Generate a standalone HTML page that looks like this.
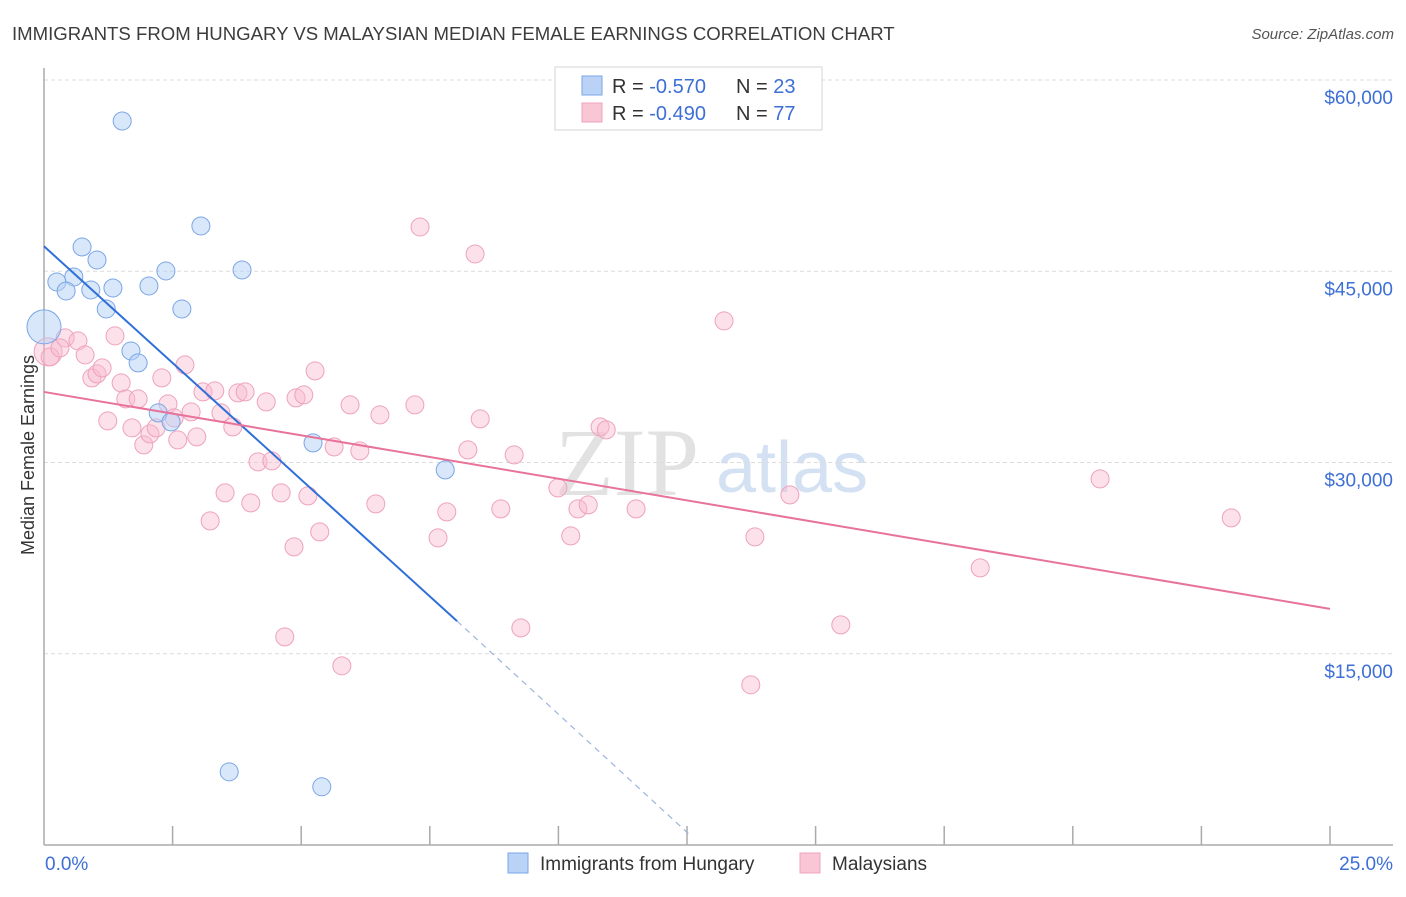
<!DOCTYPE html>
<html><head><meta charset="utf-8"><style>
body{margin:0;background:#fff;font-family:"Liberation Sans",sans-serif}
</style></head><body>
<svg id="c" width="1406" height="892" xmlns="http://www.w3.org/2000/svg"></svg>
<script>
const hungaryX=[1.52,3.05,0.74,1.03,3.85,2.37,0.58,0.25,0.43,0.91,1.34,2.04,1.21,2.68,1.69,1.83,2.22,2.47,5.23,7.80,3.60,5.40,0];
const hungaryY=[56785,48552,46905,45886,45102,45024,44553,44161,43455,43534,43690,43847,42044,42044,38750,37810,33889,33184,31537,29420,5740,4564,40633];
const malayX=[0.08,0.12,0.41,0.31,0.66,0.80,0.93,1.03,1.13,1.24,1.38,1.50,1.59,1.71,1.83,1.94,2.06,2.18,2.29,2.41,2.53,2.60,2.74,2.86,2.97,3.09,3.23,3.32,3.44,3.52,3.67,3.77,3.91,4.02,4.16,4.32,4.43,4.61,4.68,4.86,4.90,5.05,5.13,5.27,5.36,5.64,5.79,5.95,6.14,6.45,6.53,7.21,7.31,7.66,7.83,8.24,8.38,8.48,8.88,9.14,9.27,9.99,10.24,10.38,10.58,10.81,10.93,11.51,13.22,13.74,13.82,14.50,15.49,18.20,20.53,23.08];
const malayY=[38673,38281,39770,38986,39535,38437,36634,36947,37418,33262,39927,36242,34987,32713,34987,31380,32243,32713,36634,34595,33497,31772,37653,33968,32007,35536,25421,35614,33889,27616,32792,35457,35536,26832,30047,34752,30126,27616,16325,23383,35065,35300,27381,37183,24559,31223,14052,34517,30909,26754,33732,34517,48474,24088,26126,30988,46357,33419,26362,30596,17031,28008,24245,26362,26675,32792,32557,26362,41103,12562,24166,27459,17266,21736,28714,25656];
const yTicks=[15000,30000,45000,60000];
const yTickLabels=["$15,000","$30,000","$45,000","$60,000"];
const blueTrend=[[0,46960],[8.03,17560],[12.58,700]];
const pinkTrend=[[0,35535],[25,18520]];

const X=v=>44+v/25*1286;
const Y=v=>845-v/60000*765;
const svg=document.getElementById('c');
const NS="http://www.w3.org/2000/svg";
function mk(t,a,txt){const e=document.createElementNS(NS,t);for(const k in a)e.setAttribute(k,a[k]);if(txt!=null)e.textContent=txt;svg.appendChild(e);return e;}

let e;
e=mk('text',{x:12,y:40,'font-size':18.6,fill:'#3c3c3c'},'IMMIGRANTS FROM HUNGARY VS MALAYSIAN MEDIAN FEMALE EARNINGS CORRELATION CHART');

e=mk('text',{x:1394,y:39,'font-size':15,fill:'#555','font-style':'italic','text-anchor':'end'},'Source: ZipAtlas.com');


e=mk('text',{x:555,y:495,'font-size':96,fill:'#e2e2e2','font-family':'Liberation Serif'},'ZIP');

e=mk('text',{x:716,y:492,'font-size':72,fill:'#d3e1f3'},'atlas');


yTicks.forEach((v,i)=>{
 e=mk('line',{x1:44,x2:1393,y1:Y(v),y2:Y(v),stroke:'#dcdcdc','stroke-dasharray':'4,3'});
 
 e=mk('text',{x:1393,y:Y(v)+24,'font-size':19,fill:'#3d6fd6','text-anchor':'end'},yTickLabels[i]);
 
});
e=mk('line',{x1:44,x2:44,y1:68,y2:845,stroke:'#aaa','stroke-width':1.5});

e=mk('line',{x1:44,x2:1393,y1:845,y2:845,stroke:'#aaa','stroke-width':1.5});

for(let i=1;i<=10;i++){
 e=mk('line',{x1:X(i*2.5),x2:X(i*2.5),y1:826,y2:845,stroke:'#aaa','stroke-width':1.5});
 
}
e=mk('text',{x:45,y:870,'font-size':19,fill:'#3d6fd6'},'0.0%');

e=mk('text',{x:1393,y:870,'font-size':19,fill:'#3d6fd6','text-anchor':'end'},'25.0%');

e=mk('text',{x:34,y:455,'font-size':18,fill:'#333','text-anchor':'middle',transform:'rotate(-90 34 455)'},'Median Female Earnings');


malayX.forEach((v,i)=>{
 e=mk('circle',{cx:X(v),cy:Y(malayY[i]),r:i==0?14:9,fill:'rgba(248,187,208,0.45)',stroke:'#eea3bd','stroke-width':1});
 
});
hungaryX.forEach((v,i)=>{
 e=mk('circle',{cx:X(v),cy:Y(hungaryY[i]),r:i==22?17:9,fill:'rgba(180,208,245,0.5)',stroke:'#7aa6e6','stroke-width':1});
 
});
e=mk('line',{x1:X(blueTrend[0][0]),y1:Y(blueTrend[0][1]),x2:X(blueTrend[1][0]),y2:Y(blueTrend[1][1]),stroke:'#2f6fd8','stroke-width':2});

e=mk('line',{x1:X(blueTrend[1][0]),y1:Y(blueTrend[1][1]),x2:X(blueTrend[2][0]),y2:Y(blueTrend[2][1]),stroke:'#9db5dd','stroke-width':1.2,'stroke-dasharray':'6,5'});

e=mk('line',{x1:X(pinkTrend[0][0]),y1:Y(pinkTrend[0][1]),x2:X(pinkTrend[1][0]),y2:Y(pinkTrend[1][1]),stroke:'#e8739a','stroke-width':2});


e=mk('rect',{x:555,y:67,width:267,height:63,fill:'#fff',stroke:'#d6d6d6'});

[[76,'#b9d2f5','#7aa6e6','-0.570','23'],[103,'#f9c6d6','#eea3bd','-0.490','77']].forEach(r=>{
 e=mk('rect',{x:582,y:r[0],width:20,height:19,fill:r[1],stroke:r[2]});
 
 const t=mk('text',{x:612,y:r[0]+17,'font-size':20,fill:'#333'});
 
 t.innerHTML='R = <tspan fill="#3d6fd6">'+r[3]+'</tspan><tspan x="736">N = </tspan><tspan fill="#3d6fd6">'+r[4]+'</tspan>';
});
[[508,'#b9d2f5','#7aa6e6','Immigrants from Hungary','legend-hungary'],[800,'#f9c6d6','#eea3bd','Malaysians','legend-malaysians']].forEach(r=>{
 e=mk('rect',{x:r[0],y:853,width:20,height:20,fill:r[1],stroke:r[2]});
 
 e=mk('text',{x:r[0]+32,y:870,'font-size':19,fill:'#333'},r[3]);
 
});
</script>
</body></html>
